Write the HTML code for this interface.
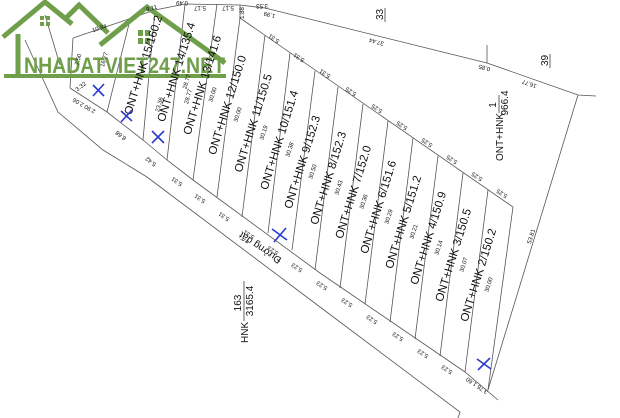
<!DOCTYPE html>
<html><head><meta charset="utf-8"><style>
html,body{margin:0;padding:0;background:#fff;width:620px;height:418px;overflow:hidden}
svg{display:block}
text{font-family:"Liberation Sans",Arial,sans-serif;fill:#111}
.l{font-size:11.5px}
.s{font-size:6px}
.d{font-size:6px}
</style></head><body>
<svg width="620" height="418" viewBox="0 0 620 418" xmlns="http://www.w3.org/2000/svg">
<g stroke="#555" stroke-width="0.8" fill="none">
<polyline points="25,40 58,112 103,150 147,177 320,307 460,412 458,418"/>
<polyline points="70,88 107,112 143,140 167,160 193,180 320,273 465,372 498,400"/>
<polyline points="73,38 120,22 155,10 185,4 240,5 265,8"/>
<polyline points="265,8 487,63 578,95 596,96"/>
<line x1="487" y1="45" x2="487" y2="63"/>
<line x1="240" y1="5" x2="240" y2="18"/>
<line x1="240" y1="18" x2="513" y2="207"/>
<line x1="513" y1="207" x2="488" y2="390"/>
<line x1="578" y1="95" x2="488" y2="390"/>
<line x1="488" y1="190" x2="465" y2="372"/>
<line x1="463" y1="173" x2="440" y2="356"/>
<line x1="438" y1="156" x2="415" y2="339"/>
<line x1="413" y1="138" x2="390" y2="322"/>
<line x1="388" y1="121" x2="365" y2="304"/>
<line x1="363" y1="104" x2="340" y2="288"/>
<line x1="338" y1="87" x2="315" y2="270"/>
<line x1="315" y1="71" x2="292" y2="250"/>
<line x1="290" y1="53" x2="268" y2="233"/>
<line x1="265" y1="35" x2="242" y2="217"/>
<line x1="240" y1="18" x2="217" y2="197"/>
<line x1="217" y1="4" x2="193" y2="180"/>
<line x1="185" y1="4" x2="167" y2="160"/>
<line x1="155" y1="10" x2="143" y2="140"/>
<line x1="130" y1="20" x2="107" y2="112"/>
<line x1="73" y1="38" x2="70" y2="88"/>
<line x1="45" y1="15" x2="60" y2="65"/>
</g>
<g stroke="#6f9f4a" stroke-width="5" fill="none" stroke-linejoin="miter">
<polyline points="3,37 45,2 72,24"/>
<polyline points="64,20 79,5 108,33"/>
<polyline points="100,45 147,7 225,63"/>
<line x1="18" y1="34" x2="18" y2="77"/>
</g>
<rect x="4" y="74" width="222" height="4" fill="#6f9f4a"/>
<g fill="#6f9f4a">
<rect x="40" y="16" width="4" height="4"/><rect x="46" y="16" width="4" height="4"/><rect x="40" y="22" width="4" height="4"/><rect x="46" y="22" width="4" height="4"/>
<rect x="138" y="30" width="5" height="6"/><rect x="145" y="30" width="5" height="6"/><rect x="138" y="38" width="5" height="6"/><rect x="145" y="38" width="5" height="6"/>
</g>
<text x="24" y="73" style="font-size:22px;font-weight:bold;fill:#6f9f4a" textLength="201" lengthAdjust="spacingAndGlyphs">NHADATVIET247.NET</text>
<g class="l">
<g transform="translate(478,275) rotate(-72.6)"><text text-anchor="middle" y="4">ONT+HNK 2/150.2</text><text class="s" text-anchor="middle" x="-6" y="15">30.00</text></g>
<g transform="translate(453,255) rotate(-72.6)"><text text-anchor="middle" y="4">ONT+HNK 3/150.5</text><text class="s" text-anchor="middle" x="-6" y="15">30.07</text></g>
<g transform="translate(428,238) rotate(-72.6)"><text text-anchor="middle" y="4">ONT+HNK 4/150.9</text><text class="s" text-anchor="middle" x="-6" y="15">30.14</text></g>
<g transform="translate(403,222) rotate(-72.6)"><text text-anchor="middle" y="4">ONT+HNK 5/151.2</text><text class="s" text-anchor="middle" x="-6" y="15">30.21</text></g>
<g transform="translate(378,207) rotate(-72.6)"><text text-anchor="middle" y="4">ONT+HNK 6/151.6</text><text class="s" text-anchor="middle" x="-6" y="15">30.29</text></g>
<g transform="translate(353,192) rotate(-72.6)"><text text-anchor="middle" y="4">ONT+HNK 7/152.0</text><text class="s" text-anchor="middle" x="-6" y="15">30.36</text></g>
<g transform="translate(328,178) rotate(-72.6)"><text text-anchor="middle" y="4">ONT+HNK 8/152.3</text><text class="s" text-anchor="middle" x="-6" y="15">30.43</text></g>
<g transform="translate(302,162) rotate(-72.6)"><text text-anchor="middle" y="4">ONT+HNK 9/152.3</text><text class="s" text-anchor="middle" x="-6" y="15">30.50</text></g>
<g transform="translate(279,140) rotate(-72.6)"><text text-anchor="middle" y="4">ONT+HNK 10/151.4</text><text class="s" text-anchor="middle" x="-6" y="15">30.38</text></g>
<g transform="translate(253,123) rotate(-72.6)"><text text-anchor="middle" y="4">ONT+HNK 11/150.5</text><text class="s" text-anchor="middle" x="-6" y="15">30.19</text></g>
<g transform="translate(227,105) rotate(-72.6)"><text text-anchor="middle" y="4">ONT+HNK 12/150.0</text><text class="s" text-anchor="middle" x="-6" y="15">30.00</text></g>
<g transform="translate(202,85) rotate(-72.6)"><text text-anchor="middle" y="4">ONT+HNK 13/141.6</text><text class="s" text-anchor="middle" x="-6" y="15">30.00</text></g>
<g transform="translate(176,72) rotate(-72.6)"><text text-anchor="middle" y="4">ONT+HNK 14/135.4</text><text class="s" text-anchor="middle" x="-6" y="15">28.77</text></g>
<g transform="translate(143,65) rotate(-72.6)"><text text-anchor="middle" y="4">ONT+HNK 15/160.2</text></g>
</g>
<g class="d">
<text transform="translate(478,384) rotate(214)" text-anchor="middle">3.76 1.60</text>
<text transform="translate(448,368) rotate(214)" text-anchor="middle">5.23</text>
<text transform="translate(424,352) rotate(214)" text-anchor="middle">5.23</text>
<text transform="translate(399,335) rotate(214)" text-anchor="middle">5.23</text>
<text transform="translate(373,318) rotate(214)" text-anchor="middle">5.23</text>
<text transform="translate(348,301) rotate(214)" text-anchor="middle">5.23</text>
<text transform="translate(323,284) rotate(214)" text-anchor="middle">5.23</text>
<text transform="translate(298,266) rotate(214)" text-anchor="middle">5.23</text>
<text transform="translate(274,249) rotate(214)" text-anchor="middle">5.23</text>
<text transform="translate(250,233) rotate(214)" text-anchor="middle">5.31</text>
<text transform="translate(225,215) rotate(214)" text-anchor="middle">5.31</text>
<text transform="translate(201,197) rotate(214)" text-anchor="middle">5.31</text>
<text transform="translate(178,180) rotate(214)" text-anchor="middle">5.31</text>
<text transform="translate(152,160) rotate(218)" text-anchor="middle">5.42</text>
<text transform="translate(122,134) rotate(218)" text-anchor="middle">8.68</text>
<text transform="translate(85,104) rotate(210)" text-anchor="middle">2.90 2.06</text>
<text transform="translate(82,88) rotate(-38)" text-anchor="middle">3.32</text>
<text transform="translate(503,192) rotate(214)" text-anchor="middle">5.25</text>
<text transform="translate(478,175) rotate(214)" text-anchor="middle">5.25</text>
<text transform="translate(453,158) rotate(214)" text-anchor="middle">5.25</text>
<text transform="translate(428,141) rotate(214)" text-anchor="middle">5.25</text>
<text transform="translate(403,124) rotate(214)" text-anchor="middle">5.25</text>
<text transform="translate(378,107) rotate(214)" text-anchor="middle">5.25</text>
<text transform="translate(352,90) rotate(214)" text-anchor="middle">5.25</text>
<text transform="translate(326,72) rotate(214)" text-anchor="middle">5.31</text>
<text transform="translate(300,56) rotate(214)" text-anchor="middle">5.31</text>
<text transform="translate(275,37) rotate(214)" text-anchor="middle">5.31</text>
<text transform="translate(244,13) rotate(-90)" text-anchor="middle">1.88</text>
<text transform="translate(228,6) rotate(180)" text-anchor="middle">5.17</text>
<text transform="translate(200,6) rotate(180)" text-anchor="middle">5.17</text>
<text transform="translate(182,1) rotate(180)" text-anchor="middle">0.49</text>
<text transform="translate(152,10) rotate(-15)" text-anchor="middle">9.11</text>
<text transform="translate(100,30) rotate(-18)" text-anchor="middle">10.84</text>
<text transform="translate(262,4) rotate(180)" text-anchor="middle">3.53</text>
<text transform="translate(270,13) rotate(195)" text-anchor="middle">1.99</text>
<text transform="translate(377,40) rotate(195)" text-anchor="middle">37.44</text>
<text transform="translate(485,66) rotate(195)" text-anchor="middle">0.85</text>
<text transform="translate(530,82) rotate(200)" text-anchor="middle">16.77</text>
<text transform="translate(533,237) rotate(-73)" text-anchor="middle">53.81</text>
<text transform="translate(80,60) rotate(-75)" text-anchor="middle">7.50</text>
<text transform="translate(106,60) rotate(-75)" text-anchor="middle">16.77</text>
<text transform="translate(161,105) rotate(-75)" text-anchor="middle">23.36</text>
<text transform="translate(190,97) rotate(-75)" text-anchor="middle">28.77</text>
</g>
<text transform="translate(262,245) rotate(214)" text-anchor="middle" style="font-size:10px">Đường đất</text>
<g transform="translate(248,315) rotate(-90)" style="font-size:10px">
<text x="-28" y="0">HNK</text><text x="12" y="-7" text-anchor="middle">163</text>
<line x1="-6" y1="-4" x2="34" y2="-4" stroke="#222" stroke-width="0.7"/><text x="14" y="5" text-anchor="middle">3165.4</text>
</g>
<g transform="translate(503,135) rotate(-90)" style="font-size:10px">
<text x="-26" y="0">ONT+HNK</text><text x="30" y="-7" text-anchor="middle">1</text>
<line x1="22" y1="-4" x2="40" y2="-4" stroke="#222" stroke-width="0.7"/><text x="32" y="5" text-anchor="middle">966.4</text>
</g>
<text transform="translate(383,20) rotate(-90)" style="font-size:10px">33</text>
<line x1="385" y1="8" x2="385" y2="22" stroke="#222" stroke-width="0.7"/>
<text transform="translate(548,66) rotate(-90)" style="font-size:10px">39</text>
<line x1="550" y1="54" x2="550" y2="68" stroke="#222" stroke-width="0.7"/>
<g stroke="#2a3ad0" stroke-width="1.6">
<path d="M93,85 L104,96 M104,84 L93,96"/>
<path d="M121,111 L132,121 M132,110 L121,122"/>
<path d="M152,131 L164,143 M164,131 L152,143"/>
<path d="M272,229 L287,240 M286,228 L274,242"/>
<path d="M477,359 L491,369 M490,358 L478,370"/>
</g>
</svg>
</body></html>
